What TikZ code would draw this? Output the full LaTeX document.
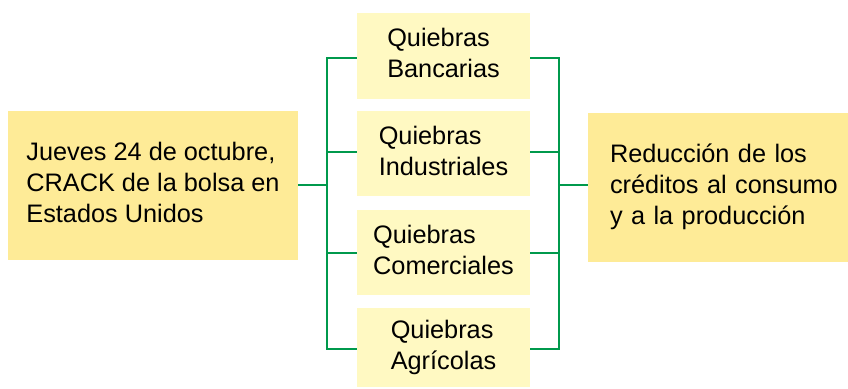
\documentclass[tikz,border=0pt]{standalone}
\usepackage{fontspec}
\setmainfont{Liberation Sans}
\definecolor{boxdark}{HTML}{FEEB97}
\definecolor{boxlight}{HTML}{FFF9C2}
\definecolor{linegreen}{HTML}{00994C}
\newcommand{\blocktext}[2]{\raisebox{#1}{\begin{tabular}{@{}l@{}}#2\end{tabular}}}
\tikzset{
  bigbox/.style={fill=boxdark, draw=none, inner sep=0pt, align=left, font=\fontsize{25.3}{31}\selectfont},
  midbox/.style={fill=boxlight, draw=none, inner sep=0pt, align=left, minimum width=173pt, font=\fontsize{25.3}{31}\selectfont},
  conn/.style={draw=linegreen, line width=2.8pt}
}
\begin{document}
\begin{tikzpicture}[x=1pt, y=-1pt]
\useasboundingbox (0,0) rectangle (848,388);
\node[bigbox, minimum width=290pt, minimum height=149pt] (L) at (153,185.5) {\blocktext{5pt}{Jueves 24 de octubre,\\CRACK de la bolsa en\\Estados Unidos}};
\node[bigbox, minimum width=260pt, minimum height=149pt, text width=238pt] (R) at (718,187.5) {\hspace*{11pt}\blocktext{5pt}{Reducción de los\\créditos al consumo\\y a la producción}};
\node[midbox, minimum height=86pt] (m1) at (443.5,56) {\blocktext{3pt}{Quiebras\\Bancarias}};
\node[midbox, minimum height=85pt] (m2) at (443.5,153.5) {\blocktext{3pt}{Quiebras\\Industriales}};
\node[midbox, minimum height=85pt] (m3) at (443.5,252.5) {\blocktext{3pt}{Quiebras\\Comerciales}};
\node[midbox, minimum height=79pt] (m4) at (443.5,347.5) {\blocktext{2pt}{Quiebras\\Agrícolas}};
\coordinate (lt) at (327,58);
\coordinate (lb) at (327,349);
\coordinate (rt) at (559,58);
\coordinate (rb) at (559,349);
\draw[conn] (L.east |- 0,185) -- (327,185);
\draw[conn] (m1.west |- lt) -| (lb) -- (m4.west |- lb);
\draw[conn] (327,152) -- (m2.west |- 0,152);
\draw[conn] (327,253) -- (m3.west |- 0,253);
\draw[conn] (m1.east |- rt) -| (rb) -- (m4.east |- rb);
\draw[conn] (559,152) -- (m2.east |- 0,152);
\draw[conn] (559,253) -- (m3.east |- 0,253);
\draw[conn] (559,185) -- (R.west |- 0,185);
\end{tikzpicture}
\end{document}
